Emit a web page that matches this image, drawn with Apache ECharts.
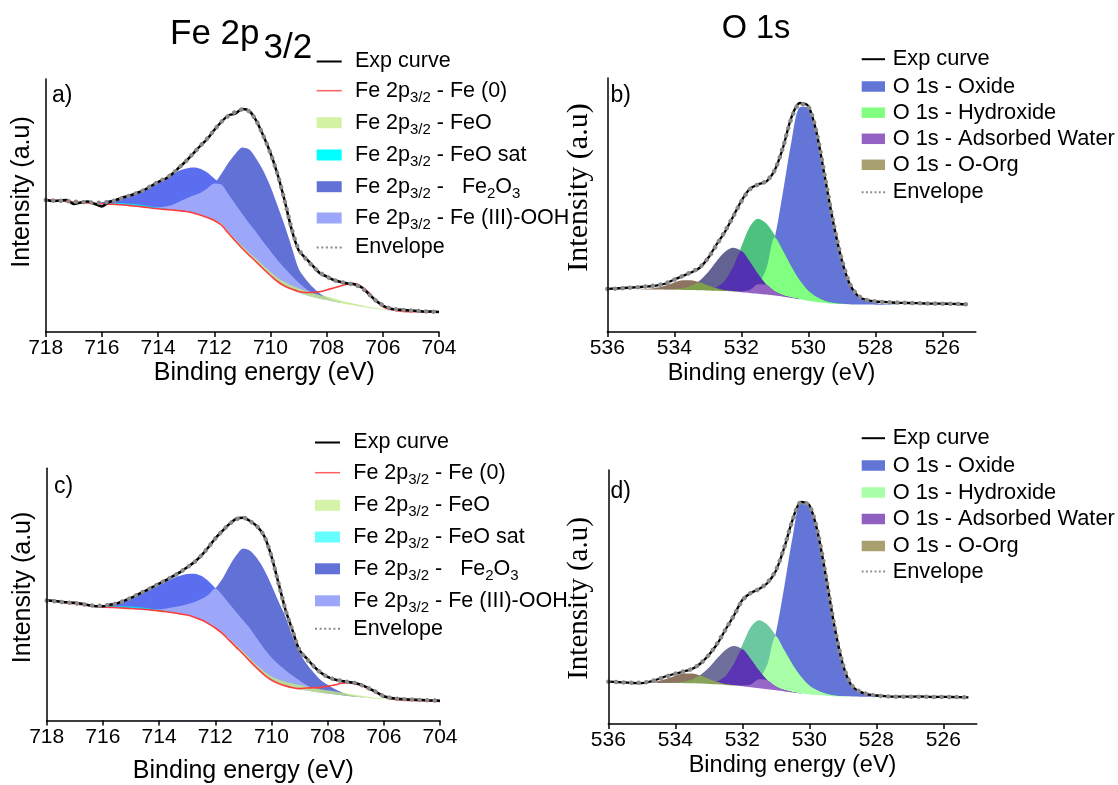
<!DOCTYPE html>
<html><head><meta charset="utf-8">
<script src="https://cdn.jsdelivr.net/npm/echarts@6/dist/echarts.min.js"></script>
<style>html,body{margin:0;padding:0;background:#fff}#c{width:1118px;height:785px}</style>
</head><body><div id="c"></div>
<script>
// ---------- energy grids (eV) ----------
const feE = [718,717.75,717.5,717.25,717,716.75,716.5,716.25,716,715.75,715.5,715.25,715,714.75,714.5,714.25,714,713.75,713.5,713.25,713,712.75,712.5,712.25,712,711.75,711.5,711.25,711,710.75,710.5,710.25,710,709.75,709.5,709.25,709,708.75,708.5,708.25,708,707.75,707.5,707.25,707,706.75,706.5,706.25,706,705.75,705.5,705.25,705,704.75,704.5,704.25,704];
const oE = [536,535.75,535.5,535.25,535,534.75,534.5,534.25,534,533.75,533.5,533.25,533,532.75,532.5,532.25,532,531.75,531.5,531.25,531,530.75,530.5,530.25,530,529.75,529.5,529.25,529,528.75,528.5,528.25,528,527.75,527.5,527.25,527,526.75,526.5,526.25,526,525.75,525.5,525.25];
const feTicks = [704,706,708,710,712,714,716,718];
const oTicks = [526,528,530,532,534,536];

// ---------- panel a (Fe 2p3/2) ----------
const aExp = [132.3,131,131.5,132,128,129.5,130.5,128,125.5,130,132,134.5,136.5,139,142,146,150,153,158,164.5,171,178.5,186,193,202,210,216.5,218.5,223,221,211,196,179,158,132,103,82,74,66.5,59,55.5,52,50,48.5,47.5,44.5,38,31.5,26.5,23.5,22.5,22,21.5,21,20.5,20.5,20];
const aEnv = [132,131.6,131.2,130.8,130.3,130,129.7,129.4,129.3,130.2,131.8,134,136.5,139,142,146,150,153.5,158,164.5,171,178.5,186,193.5,202,210,216,220,222.5,220.5,211,196,179,158,132,104,83,73.5,66,59.5,55.5,52,50,48.5,47.3,44,38,31.5,26.8,23.8,22.5,21.9,21.4,21,20.6,20.3,20];
const aBg = [132.3,131.8,131.2,130.6,130,129.5,129,128.6,128.3,127.9,127.5,127,126.4,125.7,124.9,124,123.2,122.6,122,121.3,120.5,119,117,114.5,111.5,107,99,91,83.5,76.5,70,63,56.5,50.5,46,42.5,39.5,37,35,33.3,32,30.5,29,27.6,26.5,25.2,24,23,22.3,21.7,21.1,20.6,20.3,20.2,20.1,20,20];
const aFe2O3 = [0,0,0,0,0,0,0,0,0,0,0,0,0,0,0,0.5,1.5,3,5,9,13,17.5,22,29,37,51,70,87,101,106,103,98,89,76,61,43,24,16,10,5.5,2.5,0.8,0,0,0,0,0,0,0,0,0,0,0,0,0,0,0];
const aFeOOH = [0,0,0,0,0,0,0,0.5,1.5,3.5,5.5,8,11,14,17.5,21.5,26,31,36,40,43,45.5,46.3,45,42,40.5,39,37,34.5,32,29.5,27,24.5,21.5,18,14,10,6.5,4,2,1,0.4,0,0,0,0,0,0,0,0,0,0,0,0,0,0,0];
const aFeO = [0,0,0,0,0,0,0,0,0,0,0,0,0,0,0,0,0,0,0,0,0,0,0,0,0.8,1.2,1.6,2,2.4,2.8,3.2,3.5,3.8,4,4.2,4.3,4.3,4.2,4,3.7,3.4,3,2.6,2.2,1.8,1.5,1.2,0.9,0.6,0.4,0.3,0.2,0.1,0,0,0,0];
const aFeOsat = [0,0,0,0,0,0,0,0.2,0.5,1,1.5,1.8,2,2,1.8,1.5,1.2,0.9,0.6,0.4,0.3,0.2,0.1,0,0,0,0,0,0,0,0,0,0,0,0,0,0,0,0,0,0,0,0,0,0,0,0,0,0,0,0,0,0,0,0,0,0];
const aFe0 = [0,0,0,0,0,0,0,0,0,0,0,0,0,0,0,0,0,0,0,0,0,0,0,0,0,0,0,0,0,0,0,0,0,0,0,0.5,1,2.5,4.5,7,10,13.5,17,20.5,22,20,15.5,8.5,3,1,0.3,0,0,0,0,0,0];

// ---------- panel c (Fe 2p3/2) ----------
const cExp = [121.7,121,120,119.5,119,118,116.5,115.5,115.5,117,118.3,121,124,127.5,131,134.5,138.3,142,146,150,155,160,166.7,175,184,191.5,198.5,204,205,201.5,196,186,166,139,112,91,71,63,55,48.5,44,41.5,40,39,37.8,35.5,32,28.5,24.5,22.8,22,21.5,21.2,20.8,20.5,20.2,20];
const cEnv = [121.2,120.6,119.8,119.2,118.5,117.6,116.6,116,116,117,118.5,121,124,127.5,131,134.5,138.3,142,146,150,155,160,166.7,175,184,191.5,198.5,203.5,205,201.5,196,186,166,139,112,91,71,62.5,55,48.5,44,41.5,40,38.8,37.6,35.3,32,28.5,24.6,22.9,22,21.5,21.2,20.8,20.5,20.2,20];
const cBg = [121.7,120.8,119.8,118.9,118,117.2,116.4,115.6,114.9,114.4,114,113.6,113.2,112.8,112.3,111.6,110.8,109.9,108.9,107.8,106.6,104.5,101.8,98,93.5,88,81,74,67,59.5,52.5,46,41,37.5,35,33.2,31.7,30.3,29.1,28,27.1,26.4,25.6,24.8,24,23.3,22.6,22,21.5,21.1,20.8,20.5,20.2,20,19.8,19.6,19.3];
const cFe2O3 = [0,0,0,0,0,0,0,0,0,0,0,0,0,0,0,0.5,1.6,3.3,5.5,8,11,15,21,29,40,55,75,93,107,112,111,106,96,83,70,52,37,27,19.5,13,9,5.5,3,1.2,0.4,0,0,0,0,0,0,0,0,0,0,0,0];
const cFeOOH = [0,0,0,0,0,0,0,0.5,1.5,3.5,5.5,8,11,14,17.5,21.5,26,30.5,35,38.5,41.5,44,44.5,43,40.5,39,37,35.5,34,33,29.8,26.3,22.8,19.3,15.8,12.3,8.8,5.5,3,1.5,0.6,0.2,0,0,0,0,0,0,0,0,0,0,0,0,0,0,0];
const cFeO = [0,0,0,0,0,0,0,0,0,0,0,0,0,0,0,0,0,0,0,0,0,0,0,0,0.8,1.2,1.6,2,2.4,2.8,3.2,3.5,3.8,4,4.2,4.3,4.3,4.2,4,3.7,3.4,3,2.6,2.2,1.8,1.5,1.2,0.9,0.6,0.4,0.3,0.2,0.1,0,0,0,0];
const cFeOsat = [0,0,0,0,0,0,0,0.2,0.5,1,1.5,1.8,2,2,1.8,1.5,1.2,0.9,0.6,0.4,0.3,0.2,0.1,0,0,0,0,0,0,0,0,0,0,0,0,0,0,0,0,0,0,0,0,0,0,0,0,0,0,0,0,0,0,0,0,0,0];
const cFe0 = [0,0,0,0,0,0,0,0,0,0,0,0,0,0,0,0,0,0,0,0,0,0,0,0,0,0,0,0,0,0,0,0,0,0,0,0,0.5,2.5,4,5.5,7.5,9.5,12,13.5,13,11.5,9,5.5,2.5,1,0.3,0,0,0,0,0,0];

// ---------- panel b (O 1s) ----------
const bExp = [43,43.5,44,44.5,45,45.7,46.7,48.5,52.5,56,59.5,64,73.5,87,99.5,115,131,143,147.5,150.5,162,185,215,229,226,199,154,109,72,47,35.5,32,30.5,30,29.5,29.2,29,28.8,28.5,28.4,28.3,28.2,28,27.5];
const bEnv = [43,43.4,43.9,44.4,45,45.8,46.8,48.8,52.3,56,59.8,64.5,73.5,86.5,100,115,130.5,142.5,147.5,151,162,185.5,214,228,225.5,199,154.5,109,72.5,47.5,36,32,30.6,30,29.6,29.3,29,28.8,28.6,28.4,28.3,28.2,28,27.6];
const bBg = [43,42.9,42.8,42.7,42.6,42.5,42.4,42.3,42.2,42.1,42,41.8,41.6,41.3,40.9,40.4,39.8,39.1,38.3,37.4,36.4,35.3,34.1,32.8,31.3,30,29,28.3,27.9,27.6,27.5,27.4,27.3,27.3,27.3,27.3,27.3,27.3,27.3,27.3,27.3,27.3,27.3,27.3];
const bOx = [0,0,0,0,0,0,0,0,0,0,0,0,0,0,0,0,0.7,2.8,9.5,26,58,106,157,192,194,168,124,80,45,20,8,4,1.7,0.6,0.2,0,0,0,0,0,0,0,0,0];
const bHy = [0,0,0,0,0,0,0,0,0,0,0,0,0.8,3.3,10,24,45.5,66,75,71,60,45.5,31,18.7,10,5,2.1,0.8,0.3,0,0,0,0,0,0,0,0,0,0,0,0,0,0,0];
const bWa = [0,0,0,0,0,0,0,0,0.5,1.6,4.2,9.5,18,29,38.8,43.8,41.2,31.5,19.6,9.9,4.1,1.4,0.4,0,0,0,0,0,0,0,0,0,0,0,0,0,0,0,0,0,0,0,0,0];
const bOrg = [0,0,0,0,0,0.7,2,4.3,7.3,9.6,9.8,7.8,4.9,2.4,0.9,0.3,0,0,0,0,0,0,0,0,0,0,0,0,0,0,0,0,0,0,0,0,0,0,0,0,0,0,0,0];

// ---------- panel d (O 1s) ----------
const dExp = [42.3,42,41.5,41,40.8,42.5,45,48,50.3,52.5,55,60.5,69,80,94.5,108.5,124,131,135,141,153,176,204,222,219,192,147,98,60,39,32.5,29.7,28.5,27.8,27.3,27.3,27.3,27.5,27.3,27,27.2,27,26.8,26.7];
const dEnv = [42.2,41.9,41.5,41.2,41.3,42.6,45,47.8,50.3,52.6,55.2,60.5,69,80.5,94.5,108.5,123.5,131,135,141.5,153.5,176.5,203.5,221.5,218.5,192,147,98,60,39.5,32.5,29.8,28.5,27.8,27.4,27.3,27.3,27.3,27.2,27.1,27.1,27,26.9,26.8];
const dBg = [41.7,41.6,41.5,41.4,41.3,41.2,41.1,41,40.9,40.8,40.7,40.5,40.1,39.7,39.1,38.4,37.7,36.8,35.8,34.8,33.7,32.6,31.5,30.5,29.6,28.9,28.3,27.8,27.5,27.4,27.3,27.3,27.2,27.2,27.1,27.1,27.1,27,27,27,27,26.9,26.8,26.7];
const dOx = [0,0,0,0,0,0,0,0,0,0,0,0,0,0,0,0,0.8,2.7,9,25,57,104,155,190,187,163,116,68,33,12,5,2.5,1,0.4,0,0,0,0,0,0,0,0,0,0];
const dHy = [0,0,0,0,0,0,0,0,0,0,0,0,0.7,3,9,21.8,41.3,60,68,64.4,54.4,41.3,28.1,17,9,4.5,1.9,0.7,0.3,0,0,0,0,0,0,0,0,0,0,0,0,0,0,0];
const dWa = [0,0,0,0,0,0,0,0,0.5,1.4,3.8,8.6,16.2,26,35,39.5,37,28.3,17.6,8.9,3.7,1.3,0.4,0,0,0,0,0,0,0,0,0,0,0,0,0,0,0,0,0,0,0,0,0];
const dOrg = [0,0,0,0,0,0.7,2,4.3,7.3,9.6,9.8,7.8,4.9,2.4,0.9,0.3,0,0,0,0,0,0,0,0,0,0,0,0,0,0,0,0,0,0,0,0,0,0,0,0,0,0,0,0];

// ---------- helpers ----------
const FONT = 'Liberation Sans, Arial, sans-serif';
const SERIF = 'Liberation Serif, Times New Roman, serif';
function add(base, extra){ return base.map((v,i)=> +(v + (extra ? extra[i] : 0)).toFixed(2)); }
function mins(){ const arrs=[...arguments]; return arrs[0].map((_,i)=>Math.min(...arrs.map(a=>a[i]))); }
function xy(E, Y){ return E.map((e,i)=>[e, Y[i]]); }
function activeIdx(comp){
  const keep = [];
  for (let i = 0; i < comp.length; i++) {
    if (comp[i] > 0 || (i > 0 && comp[i-1] > 0) || (i < comp.length-1 && comp[i+1] > 0)) keep.push(i);
  }
  return keep;
}
function fill(name, g, E, bg, comp, color){
  const idx = activeIdx(comp);
  return {type:'line', name, xAxisIndex:g, yAxisIndex:g, data: idx.map(i=>[E[i], +(bg[i]+comp[i]).toFixed(2)]),
    symbol:'none', showSymbol:false, smooth:0.3, lineStyle:{width:0, opacity:0}, areaStyle:{color, opacity:1}, silent:true, z:2};
}
function cover(name, g, E, bg){
  return {type:'line', name, xAxisIndex:g, yAxisIndex:g, data: xy(E,bg), symbol:'none', showSymbol:false,
    smooth:0.3, lineStyle:{width:0, opacity:0}, areaStyle:{color:'#ffffff', opacity:1}, silent:true, z:2};
}
// thin component band between the background and background+component, placed through the axes
function band(name, g, E, bg, comp, color, opacity){
  const idx = activeIdx(comp);
  return {type:'custom', name, xAxisIndex:g, yAxisIndex:g, coordinateSystem:'cartesian2d', silent:true, z:3,
    data: idx.map(i=>[E[i], bg[i]+comp[i]]),
    renderItem: function(params, api){
      if (params.dataIndex !== 0) return null;
      const top = idx.map(i=>api.coord([E[i], bg[i]+comp[i]]));
      const bot = idx.slice().reverse().map(i=>api.coord([E[i], bg[i]]));
      return {type:'polygon', shape:{points: top.concat(bot), smooth:0.25}, style:{fill:color, opacity:opacity}};
    }
  };
}
function line(name, g, E, Y, style){
  return {type:'line', name, xAxisIndex:g, yAxisIndex:g, data:xy(E,Y), symbol:'none', showSymbol:false,
    smooth:0.3, lineStyle:style, silent:true, z:3};
}
const EXP_STYLE = {color:'#000', width:2.5};
const ENV_STYLE = {color:'#8a8a8a', width:4.5, type:[0.1,7.5], cap:'round'};

function feSeries(p, g, d, col){
  return [
    fill(p+'|fe2o3', g, feE, d.bg, d.fe2o3, col.fe2o3),
    fill(p+'|feoohOnly', g, feE, d.bg, d.feooh, col.feoohOnly),
    fill(p+'|feooh', g, feE, d.bg, mins(d.feooh, d.fe2o3), col.feooh),
    cover(p+'|bg', g, feE, d.bg),
    line(p+'|fe0', g, feE, add(d.bg, d.fe0), {color:'#ff3b3b', width:1.6}),
    band(p+'|feosat', g, feE, d.bg, d.feosat, col.feosat, 0.85),
    band(p+'|feo', g, feE, d.bg, d.feo, col.feo, 0.8),
    line(p+'|exp', g, feE, d.exp, EXP_STYLE),
    line(p+'|env', g, feE, d.env, ENV_STYLE)
  ];
}
function oSeries(p, g, d, col){
  return [
    fill(p+'|ox', g, oE, d.bg, d.ox, col.ox),
    fill(p+'|hyOnly', g, oE, d.bg, d.hy, col.teal),
    fill(p+'|hy', g, oE, d.bg, mins(d.hy, d.ox), col.hy),
    fill(p+'|waOnly', g, oE, d.bg, d.wa, col.waGray),
    fill(p+'|waHy', g, oE, d.bg, mins(d.wa, d.hy), col.waDark),
    fill(p+'|wa', g, oE, d.bg, mins(d.wa, d.hy, d.ox), col.wa),
    fill(p+'|org', g, oE, d.bg, d.org, col.orgBrown),
    fill(p+'|orgWa', g, oE, d.bg, mins(d.org, d.wa), col.orgOlive),
    cover(p+'|bg', g, oE, d.bg),
    line(p+'|exp', g, oE, d.exp, {color:'#000', width:2.3}),
    line(p+'|env', g, oE, d.env, ENV_STYLE)
  ];
}

const colFe = {fe2o3:'#6271d6', feoohOnly:'#5b6ef0', feooh:'#9ca7f9', feosat:'#00e8f0', feo:'#bfe884'};
const colB = {ox:'#6475d8', teal:'#4dc27e', hy:'#80ff80', waGray:'#626293', waDark:'#5232b0', wa:'#9362c2', orgBrown:'#8d7461', orgOlive:'#7f9f48'};
const colD = {ox:'#6475d8', teal:'#6cc8a0', hy:'#a8ffa8', waGray:'#6f6f9b', waDark:'#5a34b2', wa:'#9868c8', orgBrown:'#8d7461', orgOlive:'#8aa35a'};

const series = [].concat(
  feSeries('a', 0, {bg:aBg, exp:aExp, env:aEnv, fe2o3:aFe2O3, feooh:aFeOOH, feo:aFeO, feosat:aFeOsat, fe0:aFe0}, colFe),
  oSeries('b', 1, {bg:bBg, exp:bExp, env:bEnv, ox:bOx, hy:bHy, wa:bWa, org:bOrg}, colB),
  feSeries('c', 2, {bg:cBg, exp:cExp, env:cEnv, fe2o3:cFe2O3, feooh:cFeOOH, feo:cFeO, feosat:cFeOsat, fe0:cFe0}, colFe),
  oSeries('d', 3, {bg:dBg, exp:dExp, env:dEnv, ox:dOx, hy:dHy, wa:dWa, org:dOrg}, colD)
);

// ---------- axes ----------
const grids = [
  {left:45.7, top:79, width:393.3, height:253},
  {left:607.3, top:78, width:368.5, height:254},
  {left:46.7, top:468.3, width:393.3, height:255},
  {left:608.3, top:470, width:368.5, height:254}
];
function xAx(g, isFe, nameGap, nameSize, namePad){
  const ticks = isFe ? feTicks : oTicks;
  return {type:'value', gridIndex:g, min: isFe?704:525, max: isFe?718:536, interval: isFe?2:1, inverse:true, z:10,
    axisLine:{show:true, onZero:false, lineStyle:{color:'#000', width:1.5}},
    axisTick:{show:true, inside:false, length:5, lineStyle:{color:'#000', width:1.5}, customValues: ticks},
    axisLabel:{color:'#000', fontSize:21, fontFamily:FONT, margin:6, customValues: ticks},
    splitLine:{show:false},
    name:'Binding energy (eV)', nameLocation:'middle', nameGap,
    nameTextStyle:{fontSize:nameSize, fontFamily:FONT, color:'#000', padding:namePad}};
}
function yAx(g, h, nameGap, font, size, pad){
  return {type:'value', gridIndex:g, min:0, max:h, z:10,
    axisLine:{show:true, onZero:false, lineStyle:{color:'#000', width:1.5}},
    axisTick:{show:false}, axisLabel:{show:false}, splitLine:{show:false},
    name:'Intensity (a.u)', nameLocation:'middle', nameGap, nameRotate:90,
    nameTextStyle:{fontSize:size, fontFamily:font, color:'#000', padding:pad}};
}

// ---------- legends ----------
const FE_LABELS = {
  exp:'{n|Exp curve}',
  fe0:'{n|Fe 2p}{s|3/2}{n| - Fe (0)}',
  feo:'{n|Fe 2p}{s|3/2}{n| - FeO}',
  feosat:'{n|Fe 2p}{s|3/2}{n| - FeO sat}',
  fe2o3:'{n|Fe 2p}{s|3/2}{n| -   Fe}{s|2}{n|O}{s|3}',
  feooh:'{n|Fe 2p}{s|3/2}{n| - Fe (III)-OOH}',
  env:'{n|Envelope}'
};
const O_LABELS = {
  exp:'{n|Exp curve}', ox:'{n|O 1s - Oxide}', hy:'{n|O 1s - Hydroxide}',
  wa:'{n|O 1s - Adsorbed Water}', org:'{n|O 1s - O-Org}', env:'{n|Envelope}'
};
const DOTS = 'path://M0,0h2v2h-2z M4.6,0h2v2h-2z M9.2,0h2v2h-2z M13.8,0h2v2h-2z M18.4,0h2v2h-2z M23,0h2v2h-2z';
function legendItem(seriesName, label, left, cy, o){
  const d = {name:seriesName, icon:o.icon || 'rect', itemStyle:{color:o.color, borderWidth:0, opacity:1}};
  const fs = o.fs;
  return {show:true, orient:'horizontal', left, top: cy - 14.5, padding:0, itemGap:0,
    itemWidth:o.iw, itemHeight:o.ih, selectedMode:false, data:[d], formatter: () => label,
    textStyle:{color:'#000', fontFamily:FONT, fontSize:fs, padding:[0,0,0,o.pad],
      rich:{n:{fontSize:fs, lineHeight:29, fontFamily:FONT, color:'#000'},
            s:{fontSize:15, lineHeight:15, padding:[14,0,0,0], fontFamily:FONT, color:'#000'}}}};
}
function feLegends(p, left, rows, lc){
  const base = {iw:25, ih:11, pad:8.3, fs:21.5};
  const keys = ['exp','fe0','feo','feosat','fe2o3','feooh','env'];
  const opts = {
    exp:{color:'#000', ih:2}, fe0:{color:'#ff6060', ih:1.5},
    feo:{color:lc.feo}, feosat:{color:lc.feosat},
    fe2o3:{color:'#6271d6'}, feooh:{color:'#9ca7f9'},
    env:{color:'#8a8a8a', ih:2, icon:DOTS}
  };
  return keys.map((k,i)=>legendItem(p+'|'+k, FE_LABELS[k], left, rows[i], Object.assign({}, base, opts[k])));
}
function oLegends(p, left, rows, lc, fs){
  const base = {iw:23.3, ih:10.5, pad:2.7, fs};
  const keys = ['exp','ox','hy','wa','org','env'];
  const opts = {
    exp:{color:'#000', ih:2}, ox:{color:'#6475d8'}, hy:{color:lc.hy},
    wa:{color:lc.wa}, org:{color:'#a8a06e'},
    env:{color:'#8a8a8a', ih:2, icon:DOTS}
  };
  return keys.map((k,i)=>legendItem(p+'|'+k, O_LABELS[k], left, rows[i], Object.assign({}, base, opts[k])));
}
const legends = [].concat(
  feLegends('a', 316.7, [65,90.7,122.7,155,186.7,218,251], {feo:'#d4f2a4', feosat:'#00ffff'}),
  oLegends('b', 861.7, [62.7,90,116.2,142.3,168.3,195.7], {hy:'#80ff80', wa:'#9362c2'}, 21.8),
  feLegends('c', 315, [446,472.7,505.3,537,568.8,600.8,632.3], {feo:'#d6f3aa', feosat:'#66ffff'}),
  oLegends('d', 861.7, [441.7,469,496,522.5,549.5,575], {hy:'#a8ffa8', wa:'#9060c0'}, 21.8)
);

// ---------- titles / panel letters ----------
function t(text, left, top, size){
  return {text, left, top, padding:0, textStyle:{fontSize:size, fontWeight:'normal', fontFamily:FONT, color:'#000'}};
}
const titles = [
  t('Fe 2p', 170, 17, 35), t('3/2', 263.5, 31, 35), t('O 1s', 721.7, 13, 32.5),
  t('a)', 52, 84.5, 23), t('b)', 610.5, 83.7, 23), t('c)', 54, 475, 23), t('d)', 610.5, 480, 23)
];

const option = {
  animation:false,
  backgroundColor:'#ffffff',
  title: titles,
  legend: legends,
  grid: grids,
  xAxis: [xAx(0,true,28.5,25,[0,0,0,44]), xAx(1,false,29.5,23.5,[0,40,0,0]), xAx(2,true,38.5,25,[0,0,0,0]), xAx(3,false,29.5,23.5,[0,0,0,0])],
  yAxis: [yAx(0,253,11,FONT,25,[0,0,0,27]), yAx(1,254,13,SERIF,30,[0,0,0,35]), yAx(2,255,11,FONT,25,[0,0,0,14]), yAx(3,254,14,SERIF,29,[0,3,0,0])],
  series
};
const chart = echarts.init(document.getElementById('c'), null, {renderer:'canvas', width:1118, height:785});
chart.setOption(option);
</script>
</body></html>
